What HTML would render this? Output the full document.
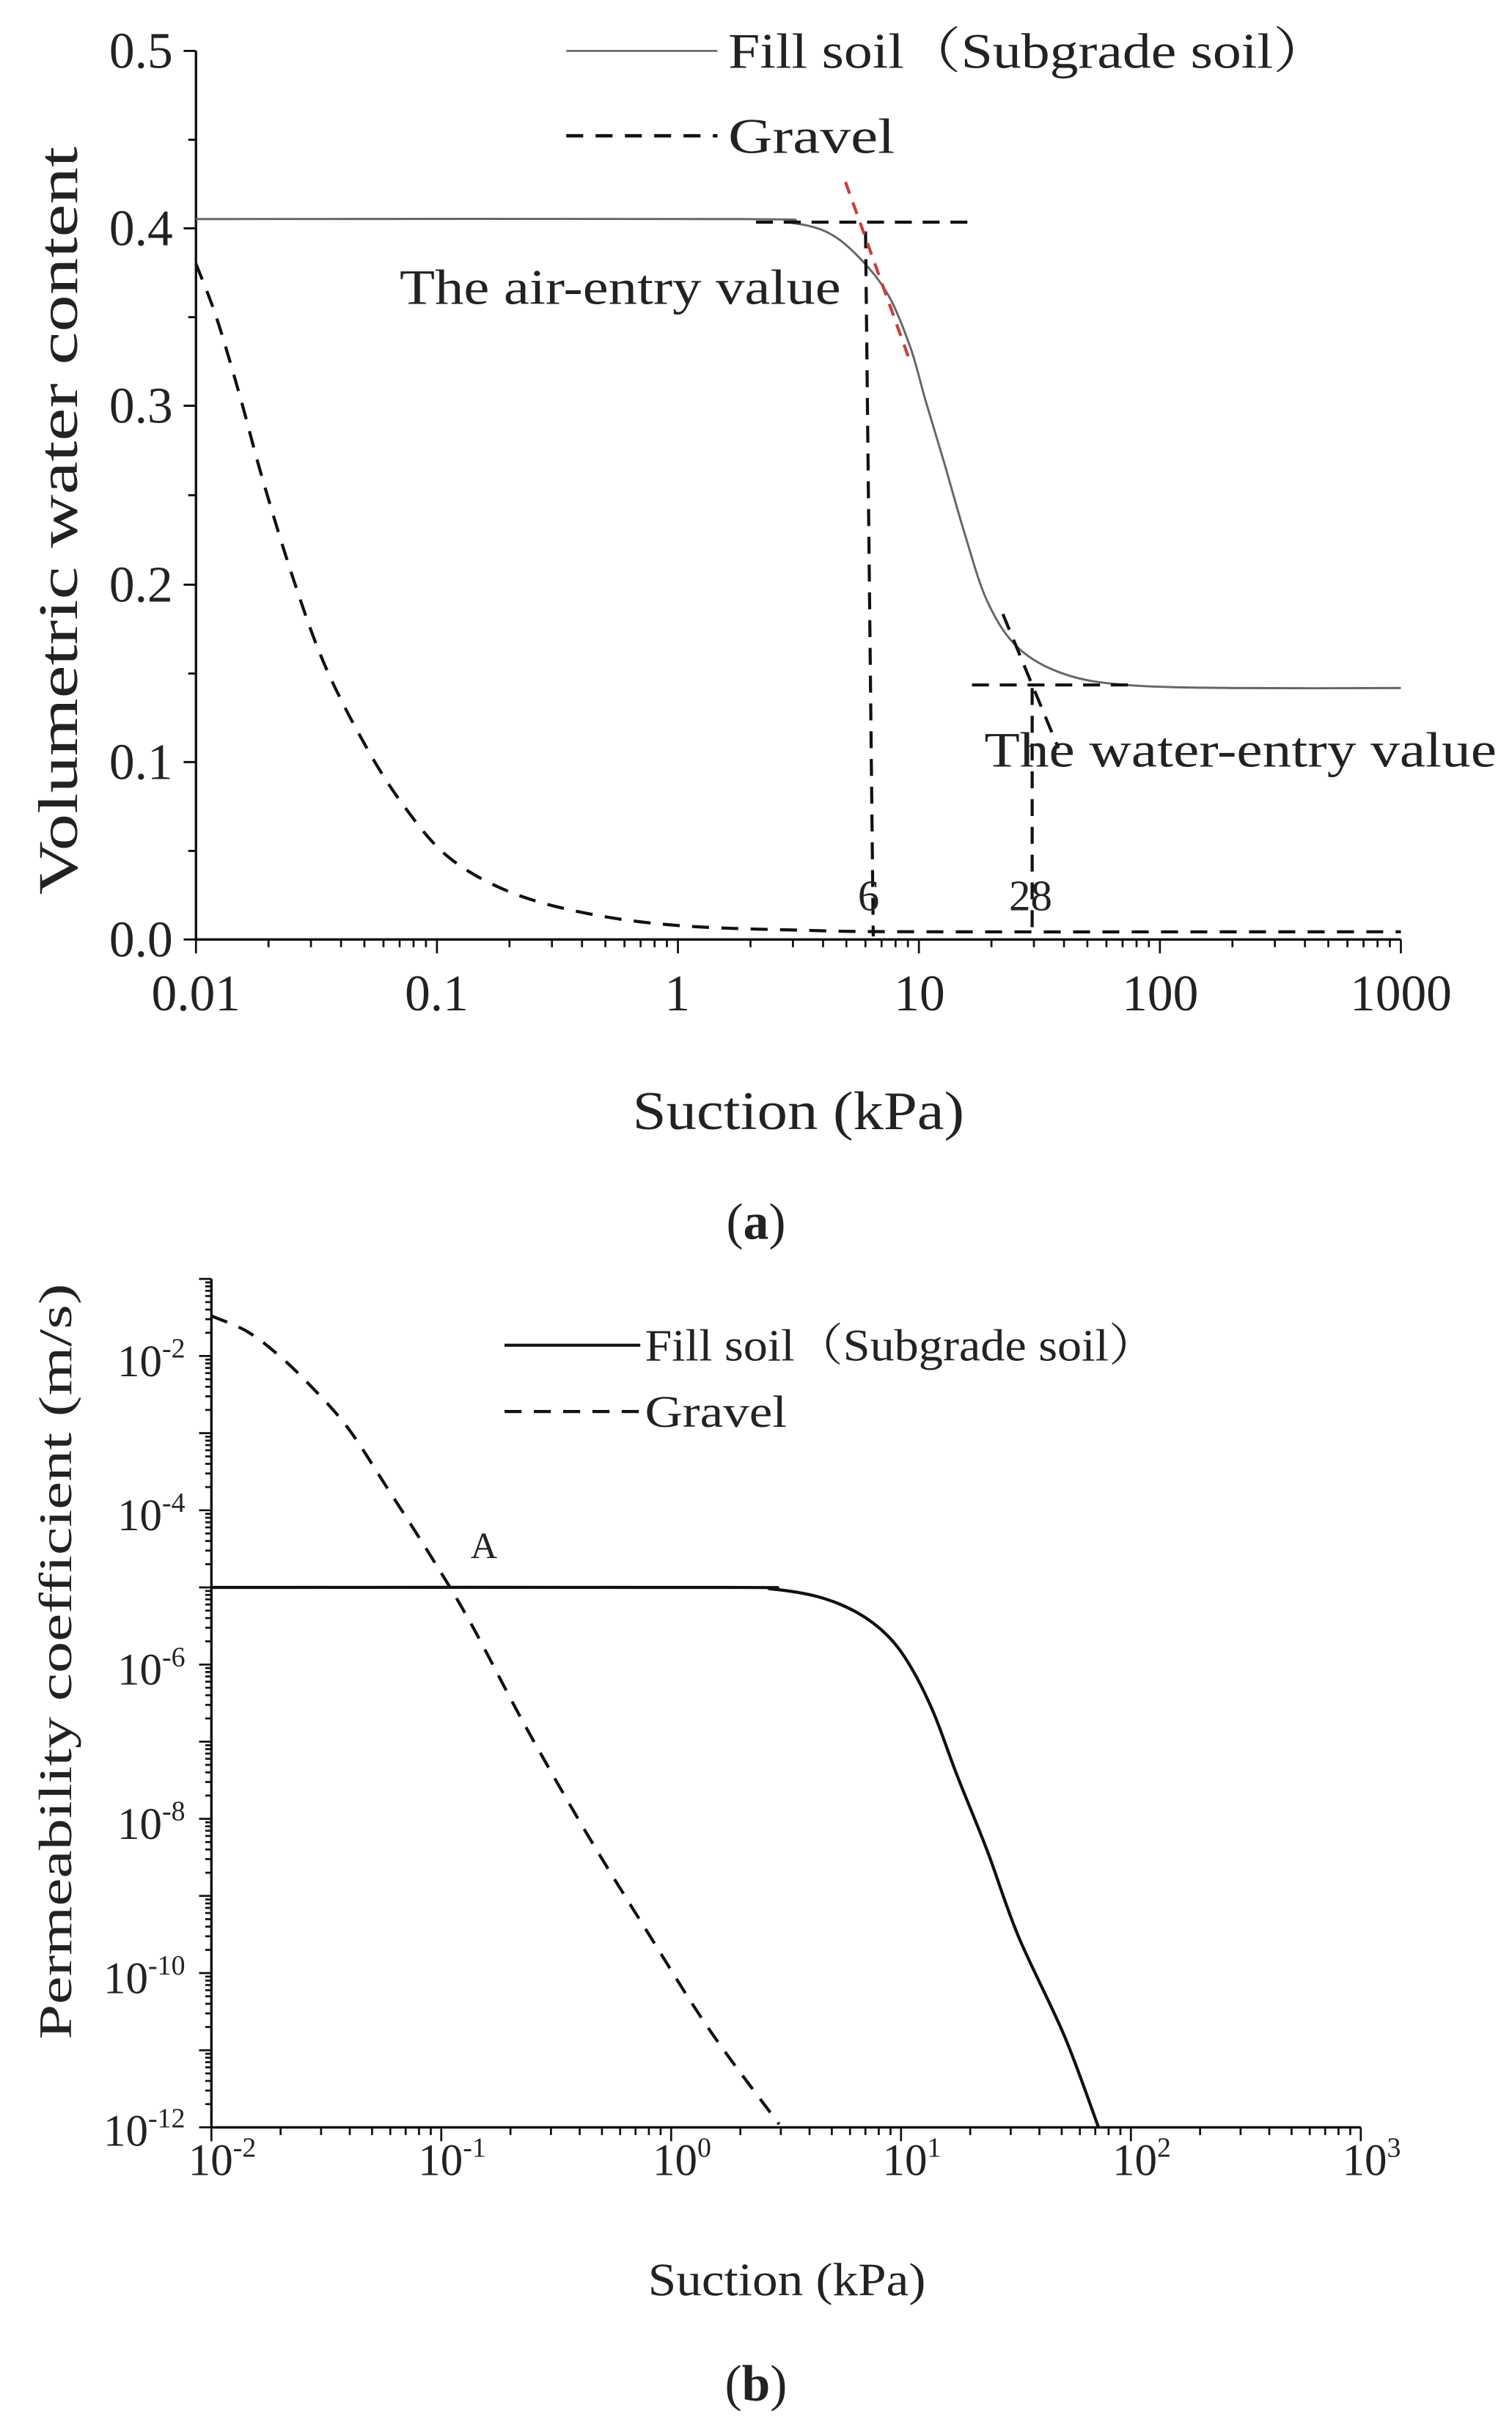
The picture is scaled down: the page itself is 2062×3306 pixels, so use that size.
<!DOCTYPE html>
<html><head><meta charset="utf-8"><style>
html,body{margin:0;padding:0;background:#fff}
svg{display:block}
text{font-family:"Liberation Serif","Noto Serif CJK SC",serif;fill:#222}
</style></head><body>
<svg width="2062" height="3306" viewBox="0 0 980 1571.3" xmlns="http://www.w3.org/2000/svg">
<!-- ===== Plot (a) ===== -->
<g stroke="#111" stroke-width="1.6" fill="none">
<line x1="127" y1="33" x2="127" y2="609"/>
<line x1="127" y1="609" x2="908" y2="609"/>
</g>
<g stroke="#111" stroke-width="1.4">
<line x1="119" y1="33" x2="127" y2="33"/><line x1="119" y1="148" x2="127" y2="148"/>
<line x1="119" y1="263" x2="127" y2="263"/><line x1="119" y1="379" x2="127" y2="379"/>
<line x1="119" y1="494" x2="127" y2="494"/><line x1="119" y1="609" x2="127" y2="609"/>
<line x1="122" y1="90.6" x2="127" y2="90.6"/><line x1="122" y1="205.6" x2="127" y2="205.6"/>
<line x1="122" y1="321" x2="127" y2="321"/><line x1="122" y1="436.6" x2="127" y2="436.6"/>
<line x1="122" y1="551.6" x2="127" y2="551.6"/>
</g>
<g id="xta" stroke="#111" stroke-width="1.3"></g>
<g font-size="33" text-anchor="end">
<text x="112" y="44">0.5</text><text x="112" y="159">0.4</text><text x="112" y="274">0.3</text>
<text x="112" y="390">0.2</text><text x="112" y="505">0.1</text><text x="112" y="620">0.0</text>
</g>
<g font-size="33" text-anchor="middle">
<text x="127" y="655">0.01</text><text x="283" y="655">0.1</text><text x="439" y="655">1</text>
<text x="596" y="655">10</text><text x="752" y="655">100</text><text x="908" y="655">1000</text>
</g>
<text x="410" y="732" font-size="35" textLength="215" lengthAdjust="spacingAndGlyphs">Suction (kPa)</text>
<text x="490" y="803" font-size="33" text-anchor="middle">(<tspan font-weight="bold">a</tspan>)</text>
<text transform="translate(50,580) rotate(-90)" font-size="36" textLength="485" lengthAdjust="spacingAndGlyphs">Volumetric water content</text>
<!-- legend a -->
<line x1="367" y1="33" x2="465" y2="33" stroke="#666" stroke-width="1.2"/>
<text x="472" y="44" font-size="32" textLength="390" lengthAdjust="spacingAndGlyphs">Fill soil（Subgrade soil）</text>
<line x1="367" y1="88" x2="465" y2="88" stroke="#111" stroke-width="2.2" stroke-dasharray="11,8"/>
<text x="472" y="99" font-size="32" textLength="108" lengthAdjust="spacingAndGlyphs">Gravel</text>
<!-- curves a -->
<path class="sm" fill="none" stroke="#666" stroke-width="1.4" data-p="127,142 480,142 510,144 535,150 555,165 575,190 590,225 600,260 612,300 625,345 640,390 660,420 690,437 730,444 800,446 908,446"/>
<path class="sm" fill="none" stroke="#111" stroke-width="2" stroke-dasharray="11,8" data-p="127,171 140,205 155,255 170,310 190,375 210,430 235,480 260,520 290,555 330,578 380,592 440,600 520,603 600,604 908,604"/>
<g fill="none" stroke="#111" stroke-width="2" stroke-dasharray="11,7">
<line x1="490" y1="144" x2="630" y2="144"/>
<line x1="561" y1="150" x2="566" y2="607"/>
<line x1="630" y1="444" x2="735" y2="444"/>
<line x1="669" y1="446" x2="669" y2="607"/>
<line x1="650" y1="398" x2="686" y2="485"/>
</g>
<line x1="548" y1="118" x2="589" y2="232" stroke="#c84040" stroke-width="2" stroke-dasharray="8,6"/>
<text x="259" y="197" font-size="32" textLength="286" lengthAdjust="spacingAndGlyphs">The air-entry value</text>
<text x="638" y="497" font-size="32" textLength="332" lengthAdjust="spacingAndGlyphs">The water-entry value</text>
<text x="563" y="590" font-size="28" text-anchor="middle">6</text>
<text x="668" y="590" font-size="28" text-anchor="middle">28</text>

<!-- ===== Plot (b) ===== -->
<g stroke="#111" stroke-width="1.6" fill="none">
<line x1="137" y1="829" x2="137" y2="1379"/>
<line x1="137" y1="1379" x2="882" y2="1379"/>
</g>
<g id="ytb" stroke="#111" stroke-width="1.3"></g>
<g id="xtb" stroke="#111" stroke-width="1.3"></g>
<g font-size="29" text-anchor="end">
<text x="120" y="892">10<tspan dy="-12" font-size="18">-2</tspan></text>
<text x="120" y="992">10<tspan dy="-12" font-size="18">-4</tspan></text>
<text x="120" y="1092">10<tspan dy="-12" font-size="18">-6</tspan></text>
<text x="120" y="1192">10<tspan dy="-12" font-size="18">-8</tspan></text>
<text x="120" y="1292">10<tspan dy="-12" font-size="18">-10</tspan></text>
<text x="120" y="1391">10<tspan dy="-12" font-size="18">-12</tspan></text>
</g>
<g font-size="29" text-anchor="middle">
<text x="144" y="1410">10<tspan dy="-12" font-size="18">-2</tspan></text>
<text x="293" y="1410">10<tspan dy="-12" font-size="18">-1</tspan></text>
<text x="442" y="1410">10<tspan dy="-12" font-size="18">0</tspan></text>
<text x="591" y="1410">10<tspan dy="-12" font-size="18">1</tspan></text>
<text x="740" y="1410">10<tspan dy="-12" font-size="18">2</tspan></text>
<text x="889" y="1410">10<tspan dy="-12" font-size="18">3</tspan></text>
</g>
<text x="420" y="1488" font-size="30" textLength="180" lengthAdjust="spacingAndGlyphs">Suction (kPa)</text>
<text x="490" y="1556" font-size="33" text-anchor="middle">(<tspan font-weight="bold">b</tspan>)</text>
<text transform="translate(46,1322) rotate(-90)" font-size="30" textLength="490" lengthAdjust="spacingAndGlyphs">Permeability coefficient (m/s)</text>
<line x1="327" y1="872" x2="415" y2="872" stroke="#111" stroke-width="2"/>
<text x="418" y="882" font-size="29" textLength="332" lengthAdjust="spacingAndGlyphs">Fill soil（Subgrade soil）</text>
<line x1="327" y1="915" x2="415" y2="915" stroke="#111" stroke-width="2" stroke-dasharray="11,8"/>
<text x="418" y="925" font-size="29" textLength="92" lengthAdjust="spacingAndGlyphs">Gravel</text>
<text x="305" y="1010" font-size="24">A</text>
<path class="sm" fill="none" stroke="#111" stroke-width="2" data-p="137,1029 470,1029 500,1030 530,1035 555,1045 575,1060 590,1080 605,1110 620,1150 640,1200 660,1255 690,1320 712,1379"/>
<path class="sm" fill="none" stroke="#111" stroke-width="2" stroke-dasharray="11,8" data-p="137,853 160,863 180,878 200,897 225,925 250,963 280,1010 305,1052 340,1118 380,1188 420,1253 460,1316 505,1377"/>
</svg>
<script>
(function(){
var ns="http://www.w3.org/2000/svg";
function ln(g,x1,y1,x2,y2){var l=document.createElementNS(ns,"line");l.setAttribute("x1",x1);l.setAttribute("y1",y1);l.setAttribute("x2",x2);l.setAttribute("y2",y2);g.appendChild(l);}
var a=document.getElementById("xta");
for(var d=0;d<5;d++){for(var m=1;m<=9;m++){var x=127+156.2*(d+Math.log10(m));ln(a,x,609,x,m==1?618:614);}}
ln(a,908,609,908,618);
var b=document.getElementById("xtb");
for(var d=0;d<5;d++){for(var m=1;m<=9;m++){var x=137+149*(d+Math.log10(m));ln(b,x,1379,x,m==1?1388:1384);}}
ln(b,882,1379,882,1388);
var c=document.getElementById("ytb");
for(var k=0;k<=11;k++){var y=829+50*k;ln(c,129,y,137,y);if(k<11){for(var m=2;m<=9;m++){var yy=829+50*k+50*(1-Math.log10(m));ln(c,133,yy,137,yy);}}}
var ps=document.querySelectorAll("path.sm");
for(var i=0;i<ps.length;i++){
var p=ps[i].getAttribute("data-p").split(" ").map(function(s){return s.split(",").map(Number);});
var d="M"+p[0][0]+","+p[0][1];
for(var j=0;j<p.length-1;j++){
var p0=p[j>0?j-1:0],p1=p[j],p2=p[j+1],p3=p[j+2<p.length?j+2:j+1];
var c1x=p1[0]+(p2[0]-p0[0])/6,c1y=p1[1]+(p2[1]-p0[1])/6,c2x=p2[0]-(p3[0]-p1[0])/6,c2y=p2[1]-(p3[1]-p1[1])/6;
d+=" C"+c1x+","+c1y+" "+c2x+","+c2y+" "+p2[0]+","+p2[1];}
ps[i].setAttribute("d",d);}
})();
</script>
</body></html>
